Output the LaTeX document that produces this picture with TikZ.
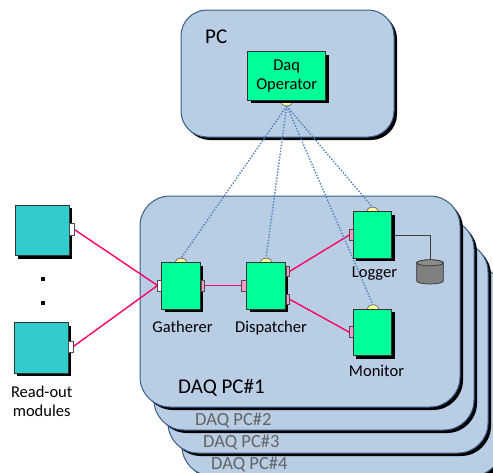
\documentclass[tikz,border=0pt]{standalone}
\usepackage{fontspec}
\setmainfont{Carlito}
\usetikzlibrary{shadows,shapes.geometric}

\definecolor{hostfill}{RGB}{185,205,229}
\definecolor{hostedge}{RGB}{56,93,138}
\definecolor{compgreen}{RGB}{0,255,153}
\definecolor{moduleteal}{RGB}{51,204,204}
\definecolor{linkred}{RGB}{255,0,102}
\definecolor{ctrlblue}{RGB}{79,129,189}
\definecolor{sockyellow}{RGB}{255,255,153}
\definecolor{portpink}{RGB}{255,153,204}
\definecolor{dimtext}{RGB}{100,100,100}
\definecolor{diskgray}{RGB}{128,128,128}

\pgfdeclarelayer{hosts}
\pgfdeclarelayer{wires}
\pgfsetlayers{hosts,wires,main}

\tikzset{
  hostbox/.style={draw=hostedge, line width=1pt, fill=hostfill, rounded corners=30pt,
    drop shadow={shadow xshift=3pt, shadow yshift=-3pt, fill=black, opacity=1}},
  pcbox/.style={hostbox, rounded corners=26pt},
  comp/.style={draw=black!80, line width=0.8pt, fill=compgreen, rectangle,
    inner sep=0pt, outer sep=0pt, anchor=north west,
    minimum width=38.5pt, minimum height=46.5pt,
    drop shadow={shadow xshift=3pt, shadow yshift=-3pt, fill=black, opacity=1}},
  module/.style={comp, fill=moduleteal, minimum width=54pt, minimum height=50.5pt},
  port/.style={draw=black!70, line width=0.5pt, fill=portpink, rectangle,
    inner sep=0pt, outer sep=0pt, minimum width=4pt, minimum height=11pt},
  wport/.style={port, fill=white},
  socket/.style={draw=black!70, line width=0.5pt, fill=sockyellow, ellipse,
    inner sep=0pt, outer sep=0pt, minimum width=12pt, minimum height=9pt},
  lbl/.style={font=\fontsize{16.5}{19}\selectfont, inner sep=0pt, align=center},
  hostlbl/.style={font=\fontsize{21}{24}\selectfont, inner sep=0pt},
  dimlbl/.style={font=\fontsize{18.5}{21}\selectfont, text=dimtext, inner sep=0pt},
  datalink/.style={draw=linkred, line width=1.4pt},
  ctrllink/.style={draw=ctrlblue, line width=1.4pt, dash pattern=on 1.4pt off 1.6pt},
  disklink/.style={draw=black!75, line width=0.8pt},
  dotmark/.style={fill=black, rectangle, inner sep=0pt, minimum size=4pt}
}

\begin{document}
\begin{tikzpicture}[x=1pt, y=-1pt]
\useasboundingbox (0,0) rectangle (493,472);

% ---- host computers ----
\begin{pgfonlayer}{hosts}
  \path[hostbox] (182,265) rectangle (502,476);
  \path[hostbox] (168,242) rectangle (488,453);
  \path[hostbox] (154,219) rectangle (474,430);
  \path[hostbox] (140,196) rectangle (460,407);
  \path[pcbox]   (181,10)  rectangle (394,137);
\end{pgfonlayer}

\node[hostlbl, anchor=west] (pclbl) at (205,37) {PC};
\node[hostlbl, anchor=west] (daq1) at (178,388) {DAQ PC\#1};
\node[dimlbl, anchor=west] (daq2) at (195,420) {DAQ PC\#2};
\node[dimlbl, anchor=west] (daq3) at (203,442) {DAQ PC\#3};
\node[dimlbl, anchor=west] (daq4) at (211,464) {DAQ PC\#4};

% ---- DAQ operator ----
\node[socket, minimum width=13pt, minimum height=12pt] (opsock) at (286.7,100) {};
\node[comp, minimum width=78pt, minimum height=48.3pt] (oper) at (247.7,51.7) {};
\node[lbl] (operlbl) at (oper.center) {Daq\\Operator};

% ---- DAQ components ----
\node[socket] (gsock) at (181,262.7) {};
\node[comp] (gath) at (161.7,262.7) {};
\node[lbl, anchor=base] (gathlbl) at (182.5,332) {Gatherer};
\node[wport] (gin) at (159.5,285.5) {};
\node[port, minimum width=3.5pt] (gout) at (202.6,285.5) {};

\node[socket] (dsock) at (266,262.7) {};
\node[comp] (disp) at (246.7,262.7) {};
\node[lbl, anchor=base] (displbl) at (271,332) {Dispatcher};
\node[port, minimum width=5pt] (din) at (244.2,285.5) {};
\node[port, minimum width=3pt, minimum height=10pt] (dout1) at (287.6,271.7) {};
\node[port, minimum width=3pt, minimum height=10pt] (dout2) at (287.6,299) {};

\node[socket] (lsock) at (372.5,211.7) {};
\node[comp] (logger) at (353.3,211.7) {};
\node[lbl, anchor=base] (loglbl) at (374.5,277.5) {Logger};
\node[port] (lin) at (351.3,235) {};

\node[socket] (msock) at (373,309.3) {};
\node[comp] (mon) at (353.3,309.3) {};
\node[lbl, anchor=base] (monlbl) at (376.5,376.5) {Monitor};
\node[port] (min) at (351.3,332.2) {};

% ---- storage disk ----
\coordinate (disktop) at (430,259.8);
\path[draw=black!80, line width=0.7pt, fill=diskgray]
  (416.7,262.8) -- (416.7,281)
  arc[start angle=180, end angle=360, x radius=13.3pt, y radius=3pt]
  -- (443.3,262.8)
  arc[start angle=0, end angle=180, x radius=13.3pt, y radius=3pt] -- cycle;
\path[draw=black!80, line width=0.7pt, fill=diskgray!90!white]
  (430,262.8) ellipse[x radius=13.3pt, y radius=3pt];

% ---- read-out modules ----
\node[module] (ro1) at (15,205) {};
\node[module] (ro2) at (14,322.7) {};
\node[wport, minimum width=4.5pt, minimum height=11.5pt] (ro1out) at (71.6,229.2) {};
\node[wport, minimum width=4.5pt, minimum height=11.5pt] (ro2out) at (70.8,346.7) {};
\node[dotmark] (dot1) at (43.3,279.3) {};
\node[dotmark] (dot2) at (43.3,303.3) {};
\node[lbl] (rolbl) at (41.7,401.5) {Read-out\\modules};

% ---- connectors ----
\begin{pgfonlayer}{wires}
  \draw[datalink] (ro1out.east) -- (gin.west);
  \draw[datalink] (ro2out.east) -- (gin.west);
  \draw[datalink] (gout.east) -- (din.west);
  \draw[datalink] (dout1.east) -- (lin.west);
  \draw[datalink] (dout2.east) -- (min.west);
  \draw[disklink] (logger.east) -| (disktop);
  \draw[ctrllink] (opsock.south) -- (gsock.north);
  \draw[ctrllink] (opsock.south) -- (dsock.north);
  \draw[ctrllink] (opsock.south) -- (lsock.north);
  \draw[ctrllink] (opsock.south) -- (msock.north);
\end{pgfonlayer}
\end{tikzpicture}
\end{document}
